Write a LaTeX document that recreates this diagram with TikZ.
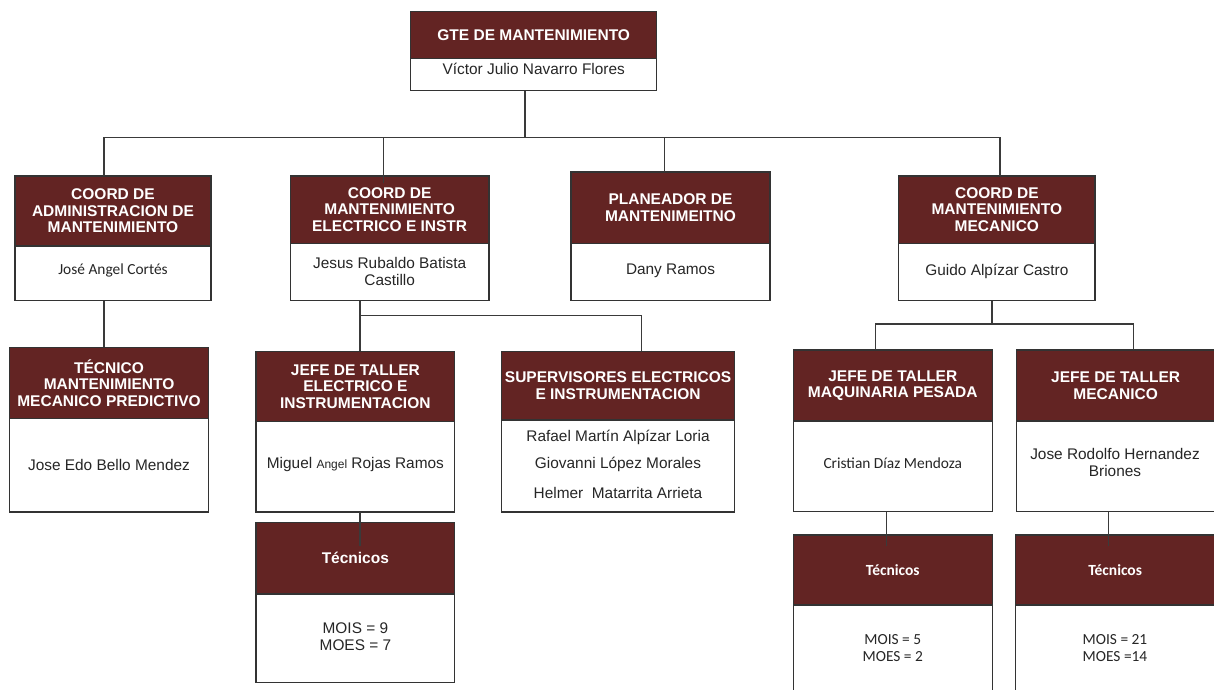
\documentclass[tikz,border=0pt]{standalone}
\usepackage{fontspec}
\setmainfont{Liberation Sans}
\newfontfamily\carl{Carlito}
\usetikzlibrary{calc}
\definecolor{maroon}{HTML}{632423}
\definecolor{bordc}{HTML}{333333}
\definecolor{linec}{HTML}{3A3A3A}
\newcommand{\hdrfont}{\fontsize{15.5pt}{16.6pt}\selectfont\bfseries}
\newcommand{\nmfont}{\fontsize{15.4pt}{16.7pt}\selectfont}
\newcommand{\orgbox}[7]{%
  \pgfmathsetmacro\obW{#3-#2}\pgfmathsetmacro\obX{(#2+#3)/2}%
  \pgfmathsetmacro\obHH{#5-#4}\pgfmathsetmacro\obHY{(#4+#5)/2}%
  \pgfmathsetmacro\obBH{#6-#5}\pgfmathsetmacro\obBY{(#5+#6)/2}%
  \node[bdy, minimum width=\obW pt, minimum height=\obBH pt] (#1B) at (\obX,\obBY) {};%
  \node[hdr, minimum width=\obW pt, minimum height=\obHH pt] (#1H) at (\obX,\obHY) {#7};%
}
\begin{document}
\begin{tikzpicture}[x=1pt,y=-1pt,
  hdr/.style={draw=bordc, fill=maroon, text=white, font=\hdrfont, align=center, inner sep=0pt, outer sep=0pt, line width=1.2pt},
  bdy/.style={draw=bordc, fill=white, inner sep=0pt, outer sep=0pt, line width=1.2pt},
  nm/.style={font=\nmfont, text=black!85, align=center, inner sep=0pt},
  conn/.style={draw=linec, line width=1.2pt}]
\useasboundingbox (0,0) rectangle (1214,689);
\clip (0,0) rectangle (1214,689);
\fill[white] (0,0) rectangle (1214,689);

% boxes
\orgbox{gte}{410.7}{656.7}{11.7}{58.3}{90.7}{GTE DE MANTENIMIENTO}
\orgbox{ca}{15}{211}{176}{246}{300.7}{COORD DE\\ADMINISTRACION DE\\MANTENIMIENTO}
\orgbox{ce}{290.3}{489}{176}{243.3}{300.7}{COORD DE\\MANTENIMIENTO\\ELECTRICO E INSTR}
\orgbox{pl}{571}{770}{172}{243.3}{300.7}{PLANEADOR DE\\MANTENIMEITNO}
\orgbox{cm}{898.7}{1095}{176}{243.3}{300.7}{COORD DE\\MANTENIMIENTO\\MECANICO}
\orgbox{tp}{9.7}{208.4}{347.3}{418.7}{512}{TÉCNICO\\MANTENIMIENTO\\MECANICO PREDICTIVO}
\orgbox{je}{256}{454.7}{351.3}{421.7}{512}{JEFE DE TALLER\\ELECTRICO E\\INSTRUMENTACION}
\orgbox{su}{501.7}{734.4}{351.3}{420}{512}{SUPERVISORES ELECTRICOS\\E INSTRUMENTACION}
\orgbox{jm}{793.3}{992.3}{350}{421}{511.7}{JEFE DE TALLER\\MAQUINARIA PESADA}
\orgbox{jc}{1016.3}{1215}{350}{421}{511.7}{JEFE DE TALLER\\MECANICO}
\orgbox{te}{256}{454.7}{522.7}{594}{682.7}{Técnicos}
\orgbox{tm}{793.3}{992.3}{535}{605}{700}{{\carl Técnicos}}
\orgbox{tc}{1015.3}{1215}{535}{605}{700}{{\carl Técnicos}}

% body texts
\node[nm] (gteT) at (533.7,69) {Víctor Julio Navarro Flores};
\node[nm, font=\carl\nmfont] (caT) at (113,270.5) {José Angel Cortés};
\node[nm] (ceT) at (389.7,271.2) {Jesus Rubaldo Batista\\Castillo};
\node[nm] (plT) at (670.5,271.2) {Dany Ramos};
\node[nm] (cmT) at (996.9,271.2) {Guido Alpízar Castro};
\node[nm] (tpT) at (109,464.5) {Jose Edo Bello Mendez};
\node[nm] (jeT) at (355.4,464.5) {Miguel {\fontsize{12pt}{12pt}\selectfont Angel} Rojas Ramos};
\node[nm] (suT1) at (618,437.2) {Rafael Martín Alpízar Loria};
\node[nm] (suT2) at (618,464.5) {Giovanni López Morales};
\node[nm] (suT3) at (618,492.8) {Helmer\ \ Matarrita Arrieta};
\node[nm, font=\carl\nmfont] (jmT) at (892.8,463) {Cristian Díaz Mendoza};
\node[nm] (jcT) at (1115,462.8) {Jose Rodolfo Hernandez\\Briones};
\node[nm] (teT) at (355.4,637) {MOIS = 9\\MOES = 7};
\node[nm, font=\carl\nmfont] (tmT) at (892.8,648.3) {MOIS = 5\\MOES = 2};
\node[nm, font=\carl\nmfont] (tcT) at (1115,648.3) {MOIS = 21\\MOES =14};

% connector coordinates
\coordinate (bus) at (525,137.3);
\coordinate (busL) at (104,137.3);
\coordinate (busR) at (1000,137.3);
\coordinate (d2) at (383.3,137.3);
\coordinate (d3) at (664.3,137.3);
\coordinate (e2) at (360,315.5);
\coordinate (e2r) at (641.3,315.5);
\coordinate (f4) at (992,324);
\coordinate (f4l) at (875.7,324);
\coordinate (f4r) at (1133.3,324);
\coordinate (g6) at (360,546);
\coordinate (g9) at (886.7,546);
\coordinate (g10) at (1108.3,546);

% connectors
\draw[conn] (gteB.south -| bus) -- (bus);
\draw[conn] (busL |- caH.north) -- (busL) -- (busR) -- (busR |- cmH.north);
\draw[conn] (d2) -- ($(d2 |- ceH.north)+(0,7)$);
\draw[conn] (d3) -- (d3 |- plH.north);
\draw[conn] (busL |- caB.south) -- (busL |- tpH.north);
\draw[conn] (e2 |- ceB.south) -- (e2 |- jeH.north);
\draw[conn] (e2) -- (e2r) -- (e2r |- suH.north);
\draw[conn] (f4 |- cmB.south) -- (f4);
\draw[conn] (f4l |- jmH.north) -- (f4l) -- (f4r) -- (f4r |- jcH.north);
\draw[conn] (g6 |- jeB.south) -- (g6);
\draw[conn] (g9 |- jmB.south) -- (g9);
\draw[conn] (g10 |- jcB.south) -- (g10);
\end{tikzpicture}
\end{document}
